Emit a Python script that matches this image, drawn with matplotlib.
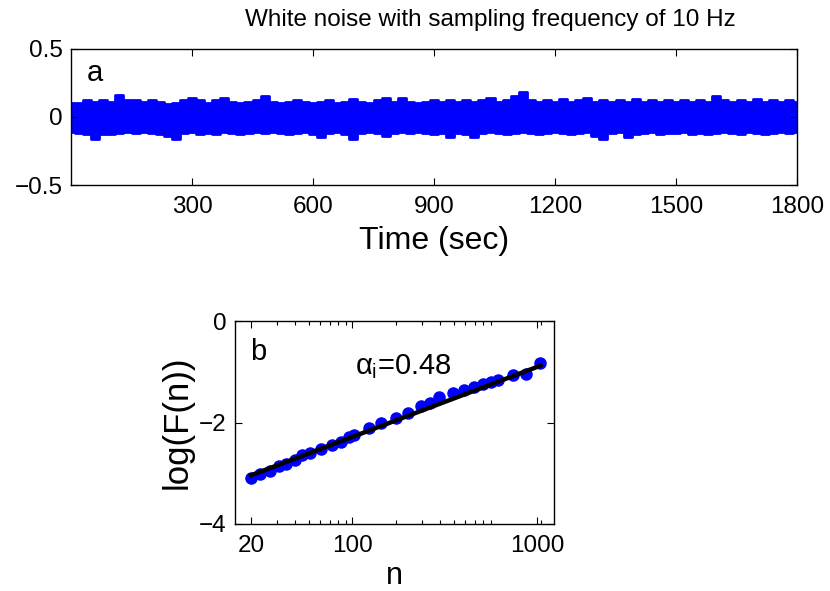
import numpy as np
import matplotlib
matplotlib.use("Agg")
import matplotlib.pyplot as plt
from matplotlib.ticker import FixedLocator, LogLocator, NullFormatter

plt.rcParams['font.family'] = ['Liberation Sans', 'DejaVu Sans']
plt.rcParams['mathtext.fontset'] = 'custom'
plt.rcParams['mathtext.rm'] = 'Liberation Sans'
plt.rcParams['mathtext.it'] = 'Liberation Sans'

# panel a: envelope of the white noise trace, read every 20 s
t_sec = np.arange(0, 1801, 20)
noise_upper = [0.10, 0.10, 0.12, 0.11, 0.12, 0.11, 0.16, 0.12, 0.12, 0.11,
               0.12, 0.11, 0.09, 0.10, 0.12, 0.14, 0.12, 0.10, 0.12, 0.14,
               0.11, 0.10, 0.11, 0.12, 0.15, 0.11, 0.10, 0.11, 0.12, 0.11,
               0.10, 0.11, 0.12, 0.10, 0.11, 0.13, 0.11, 0.10, 0.12, 0.14,
               0.11, 0.14, 0.11, 0.10, 0.11, 0.12, 0.11, 0.12, 0.11, 0.12,
               0.11, 0.12, 0.14, 0.11, 0.12, 0.15, 0.18, 0.12, 0.11, 0.12,
               0.11, 0.13, 0.11, 0.12, 0.14, 0.11, 0.12, 0.11, 0.12, 0.11,
               0.13, 0.11, 0.12, 0.11, 0.12, 0.11, 0.12, 0.11, 0.12, 0.11,
               0.15, 0.12, 0.11, 0.12, 0.11, 0.13, 0.11, 0.12, 0.11, 0.12,
               0.11]
noise_lower = [-0.11, -0.12, -0.13, -0.16, -0.13, -0.13, -0.12, -0.11, -0.12, -0.11,
               -0.12, -0.13, -0.14, -0.16, -0.12, -0.11, -0.13, -0.12, -0.13, -0.11,
               -0.12, -0.13, -0.12, -0.11, -0.12, -0.11, -0.12, -0.13, -0.12, -0.11,
               -0.13, -0.15, -0.12, -0.11, -0.13, -0.16, -0.12, -0.11, -0.12, -0.14,
               -0.12, -0.11, -0.12, -0.11, -0.12, -0.13, -0.12, -0.15, -0.12, -0.13,
               -0.15, -0.12, -0.11, -0.12, -0.13, -0.12, -0.11, -0.12, -0.13, -0.12,
               -0.11, -0.12, -0.13, -0.12, -0.11, -0.14, -0.16, -0.12, -0.11, -0.15,
               -0.13, -0.12, -0.11, -0.13, -0.12, -0.12, -0.11, -0.13, -0.12, -0.13,
               -0.12, -0.11, -0.12, -0.13, -0.11, -0.12, -0.13, -0.12, -0.11, -0.12,
               -0.11]

# panel b: DFA points
n_vals = [20, 23, 27, 31, 35, 40, 45, 51, 61, 72, 83, 95, 103, 131, 158,
          201, 243, 299, 343, 396, 491, 591, 687, 793, 906, 1008, 1282, 1585, 1983]
logF = [-3.09, -3.02, -2.95, -2.85, -2.82, -2.73, -2.65, -2.61, -2.52, -2.45,
        -2.38, -2.29, -2.25, -2.11, -2.00, -1.92, -1.81, -1.67, -1.61, -1.49,
        -1.42, -1.35, -1.31, -1.24, -1.20, -1.16, -1.07, -1.04, -0.83]
fit_n = [20, 1983]
fit_logF = [-3.04, -0.88]

xtick_pos = [20, 100, 1880]
xtick_lab = ['20', '100', '1000']

blue = '#0000ff'
fs = 17.5

fig = plt.figure(figsize=(8.3, 5.91), dpi=100)

# ---- panel a
ax1 = fig.add_axes([71/830, 1-185/591, 726/830, 136.5/591])
ax1.fill_between(t_sec, noise_lower, noise_upper, step='mid', color=blue,
                 lw=2, edgecolor=blue, joinstyle='round')
ax1.set_xlim(0, 1800)
ax1.set_ylim(-0.5, 0.5)
ax1.set_xticks([300, 600, 900, 1200, 1500, 1800])
ax1.set_yticks([-0.5, 0, 0.5])
ax1.set_yticklabels(['\u22120.5', '0', '0.5'])
ax1.set_xlabel('Time (sec)', fontsize=23, labelpad=6)
ax1.text(0.033, 0.82, 'a', transform=ax1.transAxes, fontsize=21, ha='center', va='center')

# ---- panel b
ax2 = fig.add_axes([235/830, 1-524/591, 319/830, 203/591])
ax2.set_xscale('log')
ax2.plot(n_vals, logF, 'o', color=blue, ms=8, mec=blue)
ax2.plot(fit_n, fit_logF, '-', color='black', lw=3.2)
ax2.set_xlim(15.5, 2460)
ax2.set_ylim(-4, 0)
ax2.xaxis.set_major_locator(FixedLocator(xtick_pos))
ax2.set_xticklabels(xtick_lab)
ax2.xaxis.set_minor_locator(LogLocator(base=10, subs=np.arange(2, 10)))
ax2.xaxis.set_minor_formatter(NullFormatter())
ax2.set_yticks([-4, -2, 0])
ax2.set_yticklabels(['\u22124', '\u22122', '0'])
ax2.set_xlabel('n', fontsize=22, labelpad=3)
ax2.set_ylabel('log(F(n))', fontsize=25, labelpad=4)
ax2.text(0.072, 0.847, 'b', transform=ax2.transAxes, fontsize=21, ha='center', va='center')
ax2.text(0.376, 0.773, r'$\alpha_{\mathrm{i}}$=0.48', transform=ax2.transAxes,
         fontsize=21, ha='left', va='center')

for ax in (ax1, ax2):
    ax.tick_params(which='both', direction='in', top=True, right=True,
                   labelsize=fs, width=0.8)
    ax.tick_params(which='major', length=5)
    ax.tick_params(which='minor', length=3)
    ax.tick_params(axis='x', pad=8)
    ax.tick_params(axis='y', pad=6)
    for s in ax.spines.values():
        s.set_linewidth(1.0)

fig.text(490/830, 1-20/591, 'White noise with sampling frequency of 10 Hz',
         fontsize=17.5, ha='center', va='center')

fig.savefig('out.png', dpi=100)
